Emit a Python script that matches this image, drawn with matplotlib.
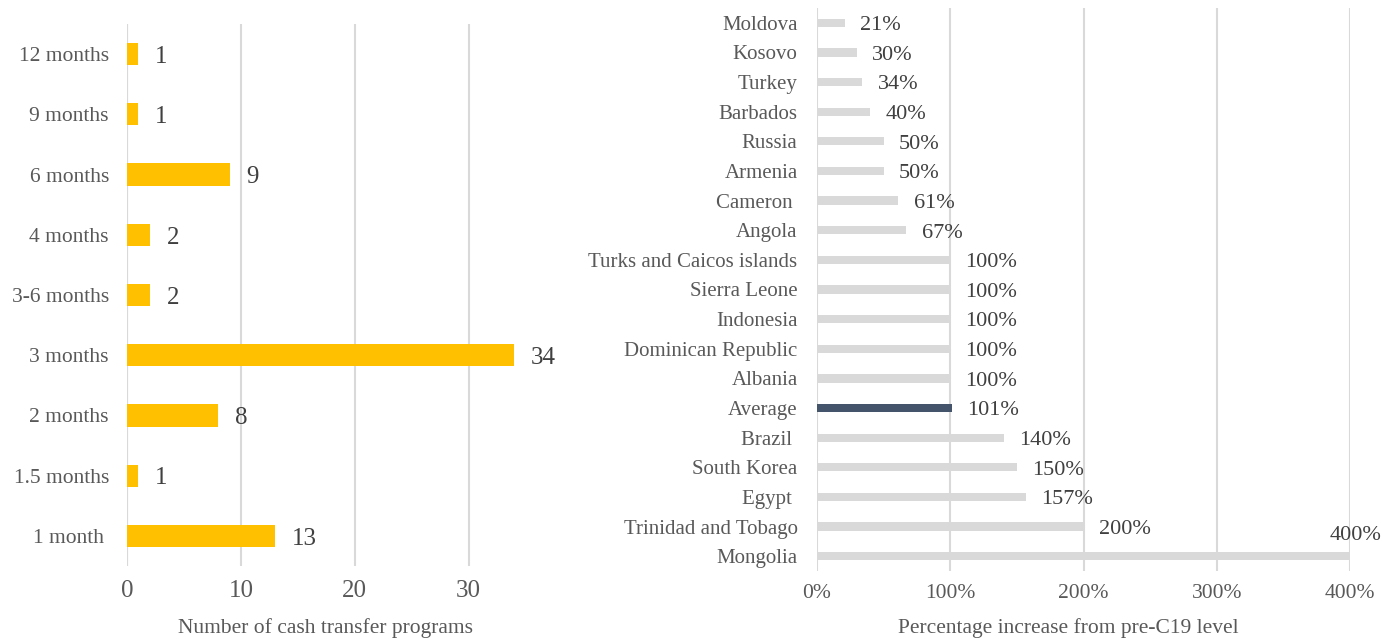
import matplotlib.pyplot as plt

plt.rcParams['font.family'] = 'Liberation Serif'

# left panel: duration of cash transfer programs
durations = ['1 month ', '1.5 months', '2 months', '3 months', '3-6 months',
             '4 months', '6 months', '9 months', '12 months']
programs = [13, 1, 8, 34, 2, 2, 9, 1, 1]

# right panel: increase from pre-C19 level (%)
countries = ['Moldova', 'Kosovo', 'Turkey', 'Barbados', 'Russia', 'Armenia',
             'Cameron ', 'Angola', 'Turks and Caicos islands', 'Sierra Leone',
             'Indonesia', 'Dominican Republic', 'Albania', 'Average', 'Brazil ',
             'South Korea', 'Egypt ', 'Trinidad and Tobago', 'Mongolia']
increase = [21, 30, 34, 40, 50, 50, 61, 67, 100, 100, 100, 100, 100, 101,
            140, 150, 157, 200, 400]
x_ticks = [0, 100, 200, 300, 400]

W, H = 1382, 639
fig = plt.figure(figsize=(W / 100, H / 100), dpi=100)

tick_col = '#595959'
lab_col = '#404040'
grid_col = '#D9D9D9'

# ---- left
ax1 = fig.add_axes([127 / W, 1 - 566 / H, 410 / W, (566 - 24) / H])
y = range(len(durations))
ax1.barh(y, programs, height=0.37, color='#FFC000', zorder=3)
ax1.set_xlim(0, 36)
ax1.set_ylim(-0.5, len(durations) - 0.5)
ax1.set_yticks(list(y))
ax1.set_yticklabels(durations)
ax1.set_xticks([0, 10, 20, 30])
for v, yy in zip(programs, y):
    ax1.annotate(str(v), (v, yy), xytext=(12, -2), textcoords='offset points',
                 va='center', ha='left', fontsize=18, color=lab_col,
                 annotation_clip=False)
fig.text(326 / W, 1 - 628 / H, 'Number of cash transfer programs',
         fontsize=15.5, color=tick_col, ha='center', va='center')
ax1.grid(axis='x', color=grid_col, linewidth=1.5, zorder=0)
ax1.axvline(0, color=grid_col, linewidth=1.5, zorder=1)
ax1.tick_params(axis='y', length=0, labelsize=15.5, labelcolor=tick_col, pad=13)
ax1.tick_params(axis='x', length=0, labelsize=18, labelcolor=tick_col, pad=10)
for s in ax1.spines.values():
    s.set_visible(False)

# ---- right
ax2 = fig.add_axes([817 / W, 1 - 571 / H, 533 / W, (571 - 8) / H])
yr = list(range(len(countries)))[::-1]
colors = ['#44546A' if c == 'Average' else '#D9D9D9' for c in countries]
ax2.barh(yr, increase, height=0.28, color=colors, zorder=3)
ax2.set_xlim(0, 400)
ax2.set_ylim(-0.5, len(countries) - 0.5)
ax2.set_yticks(yr)
ax2.set_yticklabels(countries)
ax2.set_xticks(x_ticks)
ax2.set_xticklabels([f'{t}%' for t in x_ticks])
for v, yy in zip(increase, yr):
    if v == max(increase):
        ax2.annotate(f'{v}%', (v, yy), xytext=(4, 15), textcoords='offset points',
                     va='center', ha='center', fontsize=16, color=lab_col,
                     annotation_clip=False)
    else:
        ax2.annotate(f'{v}%', (v, yy), xytext=(11, -2), textcoords='offset points',
                     va='center', ha='left', fontsize=16, color=lab_col,
                     annotation_clip=False)
fig.text(1068 / W, 1 - 628 / H, 'Percentage increase from pre-C19 level',
         fontsize=15.5, color=tick_col, ha='center', va='center')
ax2.grid(axis='x', color=grid_col, linewidth=1.5, zorder=0)
ax2.tick_params(axis='y', length=0, labelsize=15, labelcolor=tick_col, pad=14)
ax2.tick_params(axis='x', length=0, labelsize=15.5, labelcolor=tick_col, pad=9)
for s in ax2.spines.values():
    s.set_visible(False)

fig.savefig('out.png', dpi=100)
